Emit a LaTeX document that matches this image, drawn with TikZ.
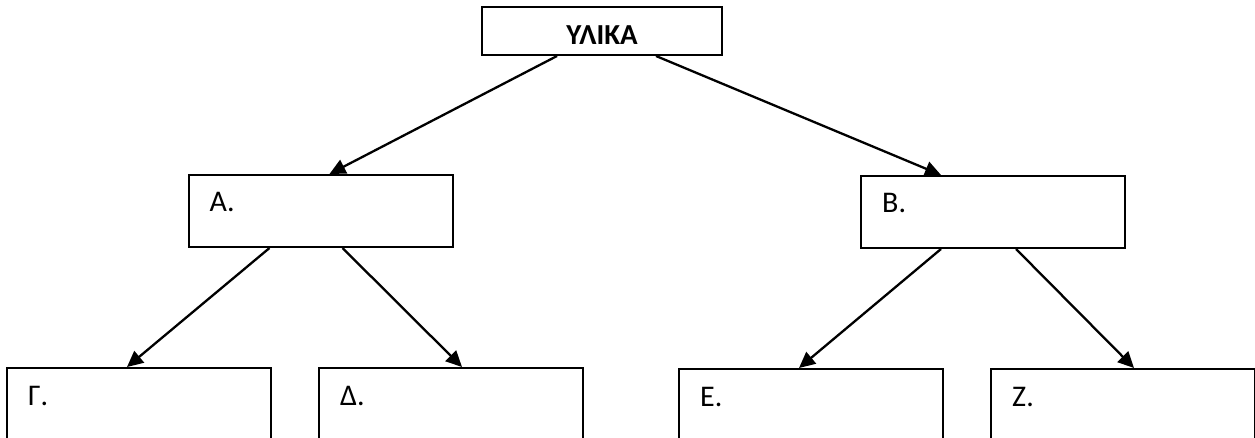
\documentclass[tikz,border=0pt]{standalone}
\usepackage{fontspec}
\setmainfont{Carlito}
\usetikzlibrary{arrows.meta}

\tikzset{
  box/.style={draw, line width=2pt, minimum width=264pt, minimum height=72pt, inner sep=0pt},
  tag/.style={font=\fontsize{30}{36}\selectfont, inner sep=0pt},
  labelled/.style={label={[tag, anchor=base west, xshift=22pt, yshift=-38pt]north west:#1}},
  link/.style={line width=2.3pt, -{Triangle[length=16pt,width=15pt]}}
}

\begin{document}
\begin{tikzpicture}[x=1pt, y=-1pt]
  \useasboundingbox (0,0) rectangle (1255,438);
  % top
  \node[box, minimum width=240pt, minimum height=48pt, text height=28pt,
        font=\bfseries\fontsize{29}{34}\selectfont] (ylika) at (602,31) {ΥΛΙΚΑ};
  % middle row
  \node[box, labelled=Α.] (A) at (320.5,211) {};
  \node[box, labelled=Β.] (B) at (993,212) {};
  % bottom row
  \node[box, minimum height=100pt, labelled=Γ.] (G) at (139,418) {};
  \node[box, minimum height=100pt, labelled=Δ.] (D) at (451,418) {};
  \node[box, minimum height=100pt, labelled=Ε.] (E) at (811,419) {};
  \node[box, minimum height=100pt, labelled=Ζ.] (Z) at (1123,419) {};
  % arrows
  \draw[link] ([xshift=76pt]ylika.south west) -- ([xshift=142pt]A.north west);
  \draw[link] ([xshift=175pt]ylika.south west) -- ([xshift=81pt]B.north west);
  \draw[link] ([xshift=82pt]A.south west) -- ([xshift=121pt]G.north west);
  \draw[link] ([xshift=155pt]A.south west) -- ([xshift=144pt]D.north west);
  \draw[link] ([xshift=81pt]B.south west) -- ([xshift=121pt]E.north west);
  \draw[link] ([xshift=156pt]B.south west) -- ([xshift=144pt]Z.north west);
\end{tikzpicture}
\end{document}
